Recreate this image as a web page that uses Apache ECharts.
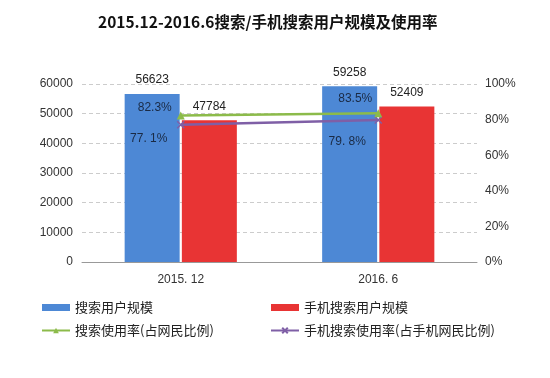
<!DOCTYPE html>
<html>
<head>
<meta charset="utf-8">
<script src="https://cdn.jsdelivr.net/npm/echarts@6/dist/echarts.min.js"></script>
<style>
  html, body { margin: 0; padding: 0; background: #fff; }
  #main { width: 550px; height: 378px; }
</style>
</head>
<body>
<div id="main"></div>
<script>
// data
var categories = ['2015. 12', '2016. 6'];
var searchUsers = [56623, 59258];
var mobileSearchUsers = [47784, 52409];
var searchRate = [82.3, 83.5];
var mobileSearchRate = [77.1, 79.8];

var font = '"Liberation Sans", Arial, "Noto Sans CJK SC", sans-serif';
var cjk = '"Noto Sans CJK SC", sans-serif';
var crossPath = 'path://M0,0L10,10M10,0L0,10';

var chart = echarts.init(document.getElementById('main'));
var option = {
  backgroundColor: '#fff',
  textStyle: { fontFamily: font },
  title: {
    text: '2015.12-2016.6搜索/手机搜索用户规模及使用率',
    left: 93,
    top: 9,
    textStyle: { fontSize: 15.5, fontWeight: 'bold', color: '#111', fontFamily: cjk }
  },
  legend: [{
    data: [{ name: '搜索用户规模', icon: 'rect' }, '搜索使用率(占网民比例)'],
    orient: 'vertical',
    left: 36, top: 296,
    itemGap: 10, itemWidth: 28, itemHeight: 7,
    textStyle: { fontSize: 13, color: '#222', fontFamily: cjk }
  }, {
    data: [{ name: '手机搜索用户规模', icon: 'rect' }, '手机搜索使用率(占手机网民比例)'],
    orient: 'vertical',
    left: 265, top: 296,
    itemGap: 10, itemWidth: 28, itemHeight: 7,
    textStyle: { fontSize: 13, color: '#222', fontFamily: cjk }
  }],
  grid: { left: 82, right: 73, top: 84, bottom: 116 },
  xAxis: {
    type: 'category',
    data: categories,
    axisLine: { lineStyle: { color: '#999' } },
    axisTick: { inside: true, length: 5, lineStyle: { color: '#999' } },
    axisLabel: { color: '#333', fontSize: 12, margin: 12 }
  },
  yAxis: [{
    type: 'value',
    min: 0, max: 60000, interval: 10000,
    axisLine: { show: false },
    axisTick: { show: false },
    axisLabel: { color: '#333', fontSize: 12, margin: 9, formatter: function (v) { return String(v); } },
    splitLine: { lineStyle: { type: [4, 3], color: '#ccc' } }
  }, {
    type: 'value',
    min: 0, max: 100, interval: 20,
    axisLine: { show: false },
    axisTick: { show: false },
    axisLabel: { color: '#333', fontSize: 12, margin: 8, formatter: '{value}%' },
    splitLine: { show: false }
  }],
  series: [{
    name: '搜索用户规模',
    type: 'bar',
    data: searchUsers,
    barWidth: 55,
    barGap: '4%',
    itemStyle: { color: '#4d88d5' },
    label: { show: true, position: 'top', distance: 8, color: '#222', fontSize: 12 }
  }, {
    name: '手机搜索用户规模',
    type: 'bar',
    data: mobileSearchUsers,
    barWidth: 55,
    itemStyle: { color: '#e83434' },
    label: { show: true, position: 'top', distance: 8, color: '#222', fontSize: 12 }
  }, {
    name: '搜索使用率(占网民比例)',
    type: 'line',
    yAxisIndex: 1,
    data: [
      { value: searchRate[0], label: { offset: [-26, 7] } },
      { value: searchRate[1], label: { offset: [-23, 0] } }
    ],
    symbol: 'triangle',
    symbolSize: 8,
    lineStyle: { color: '#8cbb4a', width: 2.5 },
    itemStyle: { color: '#8cbb4a' },
    label: { show: true, position: 'top', color: '#1a2a44', fontSize: 12, formatter: '{c}%' },
    z: 5
  }, {
    name: '手机搜索使用率(占手机网民比例)',
    type: 'line',
    yAxisIndex: 1,
    data: [
      { value: mobileSearchRate[0], label: { offset: [-32, -2] } },
      { value: mobileSearchRate[1], label: { offset: [-31, 5] } }
    ],
    symbol: crossPath,
    symbolSize: 7,
    lineStyle: { color: '#7f5fa6', width: 2.5 },
    itemStyle: { color: '#7f5fa6', borderColor: '#7f5fa6', borderWidth: 1.5 },
    label: {
      show: true, position: 'bottom', distance: 6, color: '#1a2a44', fontSize: 12,
      formatter: function (p) { return p.value.toFixed(1).replace('.', '. ') + '%'; }
    },
    z: 4
  }]
};
chart.setOption(option);
</script>
</body>
</html>
